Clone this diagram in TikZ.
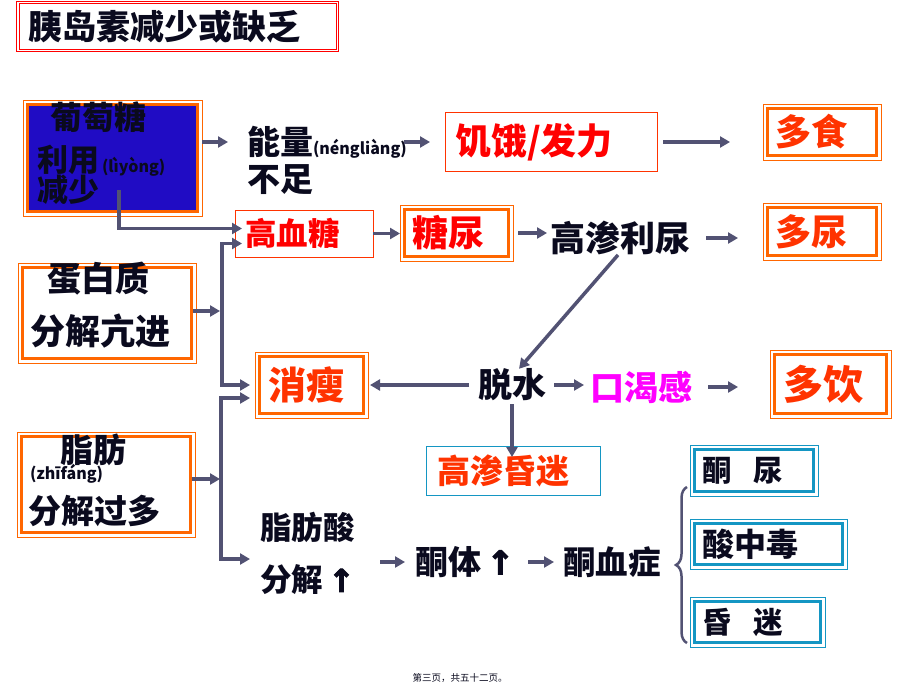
\documentclass[tikz,border=0pt]{standalone}
\usepackage{fontspec}
\setmainfont{Noto Sans CJK SC}
\newfontfamily\symfont[FakeBold=3]{DejaVu Sans}
\usetikzlibrary{arrows.meta,decorations.pathreplacing,calc}
\definecolor{ocol}{RGB}{255,102,0}
\definecolor{ored}{RGB}{255,51,0}
\definecolor{tred}{RGB}{255,0,0}
\definecolor{tcol}{RGB}{20,150,195}
\definecolor{acol}{RGB}{82,82,115}
\definecolor{gblue}{RGB}{32,12,196}
\definecolor{mag}{RGB}{255,0,255}
\definecolor{ink}{RGB}{10,10,30}
\newcommand\fsz[1]{\fontsize{#1pt}{#1pt}\selectfont}
\newcommand\uparr{{\symfont ↑}}
\begin{document}
\begin{tikzpicture}[x=1pt,y=-1pt,
  every node/.style={font=\bfseries, inner sep=0pt, outer sep=0pt, text=ink},
  arr/.style={draw=acol, line width=3.5pt, -{Triangle[length=10pt,width=11pt]}},
  obox/.style={draw=ocol, line width=3pt, anchor=west, align=left, inner ysep=0pt},
  tbox/.style={draw=tcol, line width=3pt, anchor=west, align=left, inner ysep=0pt},
  thinb/.style={draw=ored, line width=1pt, anchor=west, align=left, inner ysep=0pt},
  oframe/.style={draw=ocol, line width=0.9pt},
  tframe/.style={draw=tcol, line width=0.9pt},
  lbl/.style={anchor=west},
  brc/.style={draw=acol, line width=2.5pt, decorate, decoration={brace, amplitude=11pt}},
]
\fill[white] (0,0) rectangle (920,690);
\useasboundingbox (0,0) rectangle (920,690);

% title
\node[draw=tred, line width=1pt, double=white, double distance=1.5pt, anchor=west,
  minimum height=48pt, text width=299.5pt, inner xsep=10pt, align=left,
  font={\bfseries\fsz{34}}] (title) at (18,26.5) {胰岛素减少或缺乏};

% boxes
\node[draw=ocol, line width=3pt, fill=gblue, anchor=west, minimum width=170pt, minimum height=107pt] (glu) at (27.5,158) {};
\node[obox, minimum width=169pt, minimum height=91pt] (pro) at (22.5,313) {};
\node[obox, minimum width=169pt, minimum height=96pt] (fat) at (21.5,484.5) {};

\node[obox, text=ored, font={\bfseries\fsz{36}}, minimum height=47pt, text width=94pt, inner xsep=7.5pt] (duoshi) at (767.5,132) {多食};
\node[obox, text=ored, font={\bfseries\fsz{36}}, minimum height=48pt, text width=94pt, inner xsep=7.5pt] (duoniao) at (767.5,231.5) {多尿};
\node[obox, text=tred, font={\bfseries\fsz{36}}, minimum height=47pt, text width=89pt, inner xsep=7.5pt] (tc) at (404.5,233) {糖尿};
\node[obox, text=ored, font={\bfseries\fsz{38}}, minimum height=57pt, text width=87pt, inner xsep=8.5pt] (xs) at (259.5,385) {消瘦};
\node[obox, text=ored, font={\bfseries\fsz{40}}, minimum height=59pt, text width=95pt, inner xsep=8.5pt] (duoyin) at (774.5,384) {多饮};

\node[thinb, text=tred, font={\bfseries\fsz{36}}, minimum height=58pt, text width=192pt, inner xsep=10pt] (jf) at (445,142) {饥饿/发力};
\node[thinb, text=tred, font={\bfseries\fsz{31.5}}, minimum height=47pt, text width=118pt, inner xsep=10pt] (gx) at (235,233.5) {高血糖};
\node[draw=tcol, line width=1pt, anchor=west, align=left, text=ored, font={\bfseries\fsz{33}}, minimum height=49pt, text width=152pt, inner xsep=11pt] (hm) at (426,470.5) {高渗昏迷};

\node[tbox, font={\bfseries\fsz{29.5}}, minimum height=42pt, text width=104pt, inner xsep=7.5pt] (tn) at (694.5,470.5) {酮\hspace{22pt}尿};
\node[tbox, font={\bfseries\fsz{32}}, minimum height=41pt, text width=133pt, inner xsep=7.5pt] (szd) at (694.5,544) {酸中毒};
\node[tbox, font={\bfseries\fsz{29.5}}, minimum height=41pt, text width=111pt, inner xsep=7.5pt] (hmi) at (694.5,622) {昏\hspace{22pt}迷};

\foreach \n in {glu,pro,fat,duoshi,duoniao,tc,xs,duoyin}{
  \draw[oframe] ([shift={(-4.5pt,4.5pt)}]\n.north west) rectangle ([shift={(4.5pt,-4.5pt)}]\n.south east);}
\foreach \n in {tn,szd,hmi}{
  \draw[tframe] ([shift={(-4.5pt,4.5pt)}]\n.north west) rectangle ([shift={(4.5pt,-4.5pt)}]\n.south east);}

% texts inside grouped boxes
\node[lbl, font={\bfseries\fsz{32}}] (g1) at (50,117) {葡萄糖};
\node[lbl, font={\bfseries\fsz{31}}] (g2) at (37,160) {利用};
\node[lbl, font={\bfseries\fsz{16}}] (g3) at (102,167) {(lìyòng)};
\node[lbl, font={\bfseries\fsz{31}}] (g4) at (37,190) {减少};

\node[lbl, font={\bfseries\fsz{34}}] (p1) at (47,279) {蛋白质};
\node[lbl, font={\bfseries\fsz{35}}] (p2) at (30,331) {分解亢进};

\node[lbl, font={\bfseries\fsz{33}}] (f1) at (60,450) {脂肪};
\node[lbl, font={\bfseries\fsz{16}}] (f2) at (30,474) {(zhīfáng)};
\node[lbl, font={\bfseries\fsz{33}}] (f3) at (28,511) {分解过多};

% free texts
\node[lbl, font={\bfseries\fsz{33}}] (ne) at (247,142) {能量{\fsz{16}(néngliàng)}};
\node[lbl, font={\bfseries\fsz{33}}] (bz) at (247,180) {不足};
\node[lbl, font={\bfseries\fsz{35}}] (gl) at (550,238) {高渗利尿};
\node[lbl, font={\bfseries\fsz{34}}] (ts) at (478,385) {脱水};
\node[lbl, text=mag, font={\bfseries\fsz{34}}] (kk) at (590,387) {口渴感};
\node[lbl, font={\bfseries\fsz{31.5}}] (fa1) at (260,527) {脂肪酸};
\node[lbl, font={\bfseries\fsz{31.5}}] (fa2) at (260,580) {分解\,\uparr};
\node[lbl, font={\bfseries\fsz{33}}] (kt) at (415,562) {酮体\,\uparr};
\node[lbl, font={\bfseries\fsz{32.5}}] (xz) at (563,562) {酮血症};
\node[font=\fsz{9.5}] (ft) at (460,678) {第三页，共五十二页。};

% connectors
\draw[arr, shorten <=4.5pt, shorten >=19pt] (glu.east |- ne.west) -- (ne.west);
\draw[arr, shorten <=-3pt, shorten >=15pt] (ne.east) -- (ne.east -| jf.west);
\draw[arr, shorten <=6pt, shorten >=37.5pt] (jf.east) -- (jf.east -| duoshi.west);

\coordinate (gs) at (119,190);
\draw[arr, shorten >=-7pt] (gs) |- ([yshift=5pt]gx.west);
\draw[arr, shorten >=4.5pt] (gx.east) -- (gx.east -| tc.west);
\draw[arr, shorten <=9.5pt, shorten >=3pt] (tc.east) -- (tc.east -| gl.west);
\draw[arr, shorten <=16pt, shorten >=29.5pt] (gl.east) -- (gl.east -| duoniao.west);
\draw[arr] ([xshift=-2pt]gl.south) -- ([xshift=7pt]ts.north);

\draw[arr, shorten <=9pt, shorten >=6.5pt] (ts.west) -- (ts.west -| xs.east);
\draw[arr, shorten <=8pt, shorten >=6pt] (ts.east) -- (ts.east -| kk.west);
\draw[arr, shorten <=16pt, shorten >=36.5pt] (kk.east) -- (kk.east -| duoyin.west);
\draw[arr, shorten <=3pt, shorten >=-11pt] (ts.south) -- (ts.south |- hm.north);

\coordinate (j1) at (222,311);
\draw[arr, shorten <=1.5pt, shorten >=2pt] (pro.east |- j1) -- (j1);
\draw[arr, shorten >=-7pt] (j1) |- ([yshift=-10pt]gx.west);
\draw[arr, shorten >=9.5pt] (j1) |- (xs.west);

\coordinate (j2) at (221,479);
\draw[arr, shorten <=1.5pt, shorten >=1pt] (fat.east |- j2) -- (j2);
\draw[arr, shorten >=9.5pt] (j2) |- ([yshift=-13pt]xs.west);
\draw[arr, shorten >=10pt] (j2) |- ([yshift=21pt]fa2.west);

\draw[arr, shorten <=25.5pt, shorten >=10pt] (fa1.east |- kt.west) -- (kt.west);
\draw[arr, shorten <=14pt, shorten >=9pt] (kt.east) -- (xz.west);

\coordinate (bt) at (687,487);
\coordinate (bb) at (687,643);
\draw[brc] (bb) -- (bt);
\end{tikzpicture}
\end{document}
